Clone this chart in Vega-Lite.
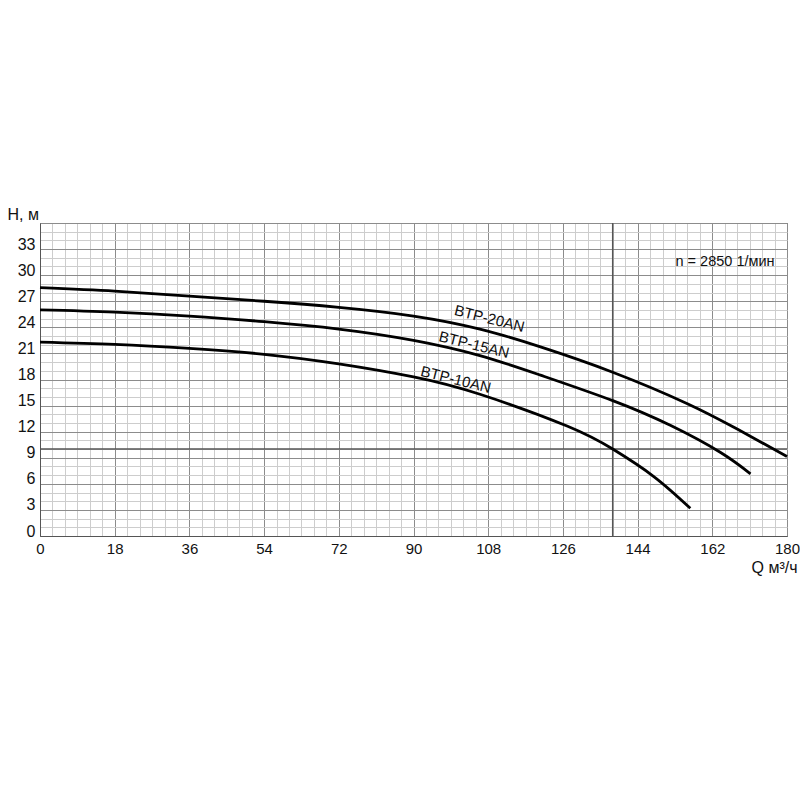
{
  "$schema": "https://vega.github.io/schema/vega-lite/v6.json",
  "width": 747,
  "height": 313,
  "autosize": "none",
  "padding": {"left": 40, "top": 223, "right": 13, "bottom": 264},
  "background": "white",
  "config": {
    "font": "Liberation Sans",
    "view": {"stroke": "#555555", "strokeWidth": 1}
  },
  "datasets": {
    "curves": [
      {"pump": "BTP-20AN", "Q": 0, "H": 28.57},
      {"pump": "BTP-20AN", "Q": 18, "H": 28.17},
      {"pump": "BTP-20AN", "Q": 36, "H": 27.6},
      {"pump": "BTP-20AN", "Q": 54, "H": 27.0},
      {"pump": "BTP-20AN", "Q": 72, "H": 26.3},
      {"pump": "BTP-20AN", "Q": 90, "H": 25.3},
      {"pump": "BTP-20AN", "Q": 106, "H": 23.8},
      {"pump": "BTP-20AN", "Q": 120.6, "H": 21.75},
      {"pump": "BTP-20AN", "Q": 138, "H": 18.84},
      {"pump": "BTP-20AN", "Q": 156, "H": 15.22},
      {"pump": "BTP-20AN", "Q": 168, "H": 12.3},
      {"pump": "BTP-20AN", "Q": 180, "H": 9.15},
      {"pump": "BTP-15AN", "Q": 0, "H": 26.0},
      {"pump": "BTP-15AN", "Q": 18, "H": 25.75},
      {"pump": "BTP-15AN", "Q": 36, "H": 25.3},
      {"pump": "BTP-15AN", "Q": 54, "H": 24.65},
      {"pump": "BTP-15AN", "Q": 72, "H": 23.8},
      {"pump": "BTP-15AN", "Q": 90, "H": 22.5},
      {"pump": "BTP-15AN", "Q": 106, "H": 20.75},
      {"pump": "BTP-15AN", "Q": 120.6, "H": 18.5},
      {"pump": "BTP-15AN", "Q": 138, "H": 15.57},
      {"pump": "BTP-15AN", "Q": 152, "H": 12.7},
      {"pump": "BTP-15AN", "Q": 164, "H": 9.6},
      {"pump": "BTP-15AN", "Q": 171.2, "H": 7.15},
      {"pump": "BTP-10AN", "Q": 0, "H": 22.3},
      {"pump": "BTP-10AN", "Q": 18, "H": 22.03},
      {"pump": "BTP-10AN", "Q": 36, "H": 21.57},
      {"pump": "BTP-10AN", "Q": 54, "H": 20.9},
      {"pump": "BTP-10AN", "Q": 72, "H": 19.8},
      {"pump": "BTP-10AN", "Q": 90, "H": 18.3},
      {"pump": "BTP-10AN", "Q": 106, "H": 16.3},
      {"pump": "BTP-10AN", "Q": 127, "H": 12.65},
      {"pump": "BTP-10AN", "Q": 138, "H": 10.0},
      {"pump": "BTP-10AN", "Q": 147.9, "H": 6.84},
      {"pump": "BTP-10AN", "Q": 156.7, "H": 3.19}
    ],
    "labels": [
      {"text": "BTP-20AN", "Q": 108.3, "H": 25.0},
      {"text": "BTP-15AN", "Q": 104.6, "H": 22.0},
      {"text": "BTP-10AN", "Q": 100.2, "H": 18.0}
    ],
    "note": [
      {"text": "n = 2850 1/мин", "Q": 177, "H": 31.5}
    ],
    "vrules": [{"Q": 138, "H": 0, "H2": 36}],
    "hrules": [{"Q": 0, "Q2": 180, "H": 10}]
  },
  "encoding": {
    "x": {
      "field": "Q", "type": "quantitative",
      "scale": {"domain": [0, 180], "nice": false, "zero": false},
      "axis": {
        "values": [0,3,6,9,12,15,18,21,24,27,30,33,36,39,42,45,48,51,54,57,60,63,66,69,72,75,78,81,84,87,90,93,96,99,102,105,108,111,114,117,120,123,126,129,132,135,138,141,144,147,150,153,156,159,162,165,168,171,174,177,180],
        "labelExpr": "datum.value % 18 === 0 ? datum.label : ''",
        "labelOverlap": false,
        "labelFlush": false,
        "labelFontSize": 15,
        "labelColor": "#111111",
        "labelPadding": 5,
        "ticks": false,
        "grid": true,
        "gridColor": {"condition": {"test": "datum.value % 18 === 0", "value": "#8c8c8c"}, "value": "#cdcdcd"},
        "gridWidth": 1,
        "domainColor": "#555555",
        "title": "Q м³/ч",
        "titleFontSize": 16,
        "titleFontWeight": "normal",
        "titleColor": "#111111",
        "titleAlign": "right",
        "titleBaseline": "middle",
        "titleX": 757,
        "titleY": 31
      }
    },
    "y": {
      "field": "H", "type": "quantitative",
      "scale": {"domain": [0, 36], "nice": false, "zero": false},
      "axis": {
        "values": [0,1,2,3,4,5,6,7,8,9,10,11,12,13,14,15,16,17,18,19,20,21,22,23,24,25,26,27,28,29,30,31,32,33,34,35,36],
        "labelExpr": "datum.value % 3 === 0 && datum.value < 36 ? datum.label : ''",
        "labelOverlap": false,
        "labelFlush": false,
        "labelFontSize": 16,
        "labelColor": "#111111",
        "labelPadding": 5,
        "labelOffset": -5,
        "ticks": false,
        "grid": true,
        "gridColor": {"condition": {"test": "datum.value % 3 === 0", "value": "#8c8c8c"}, "value": "#cdcdcd"},
        "gridWidth": 1,
        "domainColor": "#555555",
        "title": "H, м",
        "titleFontSize": 16,
        "titleFontWeight": "normal",
        "titleColor": "#111111",
        "titleAngle": 0,
        "titleAlign": "left",
        "titleBaseline": "middle",
        "titleX": -33,
        "titleY": -9
      }
    }
  },
  "layer": [
    {
      "data": {"name": "vrules"},
      "mark": {"type": "rule", "color": "#555555", "strokeWidth": 1.5},
      "encoding": {"y2": {"field": "H2"}}
    },
    {
      "data": {"name": "hrules"},
      "mark": {"type": "rule", "color": "#555555", "strokeWidth": 1.5},
      "encoding": {"x2": {"field": "Q2"}}
    },
    {
      "data": {"name": "curves"},
      "mark": {"type": "line", "interpolate": "natural", "color": "black", "strokeWidth": 2.8, "strokeCap": "butt"},
      "encoding": {
        "detail": {"field": "pump", "type": "nominal"}
      }
    },
    {
      "data": {"name": "labels"},
      "mark": {"type": "text", "angle": 14, "fontSize": 15, "align": "center", "baseline": "middle", "color": "#111111"},
      "encoding": {
        "text": {"field": "text", "type": "nominal"}
      }
    },
    {
      "data": {"name": "note"},
      "mark": {"type": "text", "fontSize": 14.5, "align": "right", "baseline": "middle", "color": "#111111"},
      "encoding": {
        "text": {"field": "text", "type": "nominal"}
      }
    }
  ]
}
